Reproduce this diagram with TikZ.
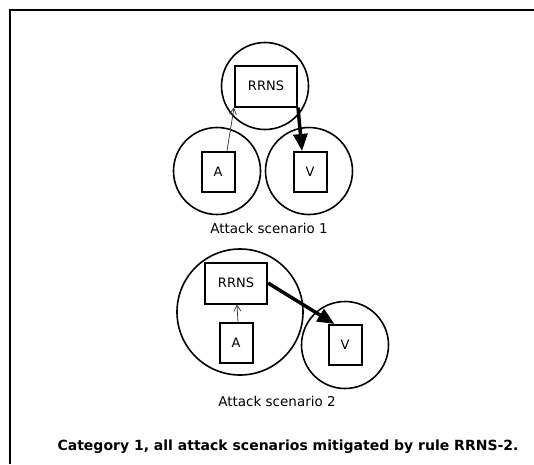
\documentclass[tikz,border=0pt]{standalone}
\usepackage{fontspec}
\setmainfont{DejaVu Sans}
\usetikzlibrary{arrows.meta}
\begin{document}
\begin{tikzpicture}[x=1pt,y=-1pt,
  ring/.style={circle,draw,line width=1.6pt,inner sep=0pt,minimum size=#1},
  box/.style={rectangle,draw,line width=2pt,inner sep=0pt,font=\fontsize{13}{15}\selectfont},
  weak/.style={draw=black!75,line width=0.8pt,-{Straight Barb[length=6pt,width=7pt]}},
  strong/.style={line width=3.5pt,-{Triangle[length=17pt,width=14pt]}},
  caption/.style={font=\fontsize{13.5}{16}\selectfont}]
\useasboundingbox (0,0) rectangle (534,464);
% frame edges
\draw[line width=1.4pt] (10,464) -- (10,10) -- (534,10);

% scenario 1
\node[ring=87pt] (c1r) at (265,86) {};
\node[ring=87pt] (c1a) at (217,171) {};
\node[ring=87pt] (c1v) at (309,171) {};
\node[box,minimum width=62pt,minimum height=41pt] (r1) at (266,86) {RRNS};
\node[box,minimum width=33pt,minimum height=40pt] (a1) at (218,172) {A};
\node[box,minimum width=33pt,minimum height=40pt] (v1) at (310,172) {V};
\draw[weak] ([xshift=9pt]a1.north) -- (r1.south west);
\draw[strong] (r1.south east) -- ([xshift=-8pt]v1.north);
\node[caption] (t1) at (269,228) {Attack scenario 1};

% scenario 2
\node[ring=126pt] (c2r) at (240,312) {};
\node[ring=87pt] (c2v) at (345,345) {};
\node[box,minimum width=62pt,minimum height=41pt] (r2) at (236,283) {RRNS};
\node[box,minimum width=33pt,minimum height=40pt] (a2) at (236,343) {A};
\node[box,minimum width=33pt,minimum height=40pt] (v2) at (345,345) {V};
\draw[weak] ([xshift=2pt]a2.north) -- ([xshift=1pt]r2.south);
\draw[strong] (r2.east) -- ([xshift=7pt]v2.north west);
\node[caption] (t2) at (277,401) {Attack scenario 2};

\node[font=\bfseries\fontsize{14}{17}\selectfont] (cap) at (288,447) {Category 1, all attack scenarios mitigated by rule RRNS-2.};
\end{tikzpicture}
\end{document}
